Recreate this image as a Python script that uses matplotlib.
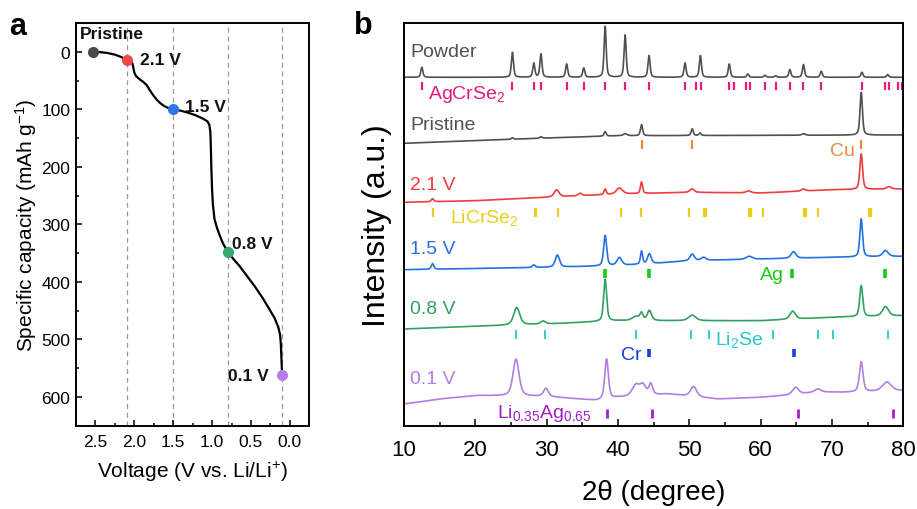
import numpy as np
import matplotlib
matplotlib.use('Agg')
import matplotlib.pyplot as plt
from matplotlib.ticker import MultipleLocator

plt.rcParams['font.family'] = ['Liberation Sans', 'DejaVu Sans']
plt.rcParams['mathtext.fontset'] = 'custom'
plt.rcParams['mathtext.rm'] = 'Liberation Sans'
plt.rcParams['mathtext.it'] = 'Liberation Sans:italic'
plt.rcParams['mathtext.bf'] = 'Liberation Sans:bold'

# ---------------- Panel a data ----------------
voltage = [2.53, 2.45, 2.35, 2.25, 2.17, 2.10, 2.05, 2.025, 2.012, 2.0, 1.98, 1.93, 1.88,
           1.84, 1.80, 1.76, 1.72, 1.67, 1.62, 1.56, 1.50, 1.42, 1.33, 1.22, 1.12,
           1.06, 1.035, 1.022, 1.015, 1.01, 1.0, 0.99, 0.97, 0.94, 0.90, 0.86, 0.80,
           0.74, 0.65, 0.55, 0.45, 0.35, 0.27, 0.20, 0.15, 0.125, 0.115, 0.108, 0.10]
capacity = [0, 0.5, 2, 5, 9, 14, 17, 20, 28, 36, 42, 48, 53,
            58, 67, 75, 82, 89, 94, 98, 100, 102, 105, 110, 116,
            121, 127, 140, 170, 200, 240, 265, 290, 305, 320, 333, 348,
            358, 372, 390, 408, 428, 446, 462, 478, 492, 510, 535, 560]
state_labels = ['Pristine', '2.1 V', '1.5 V', '0.8 V', '0.1 V']
state_voltage = [2.53, 2.10, 1.50, 0.80, 0.10]
state_capacity = [0, 14, 100, 348, 562]
state_colors = ['#4a4a4a', '#f04848', '#2a78e8', '#34a86a', '#b47fe6']
cutoff_voltage = [2.1, 1.5, 0.8, 0.1]

# ---------------- Panel b data ----------------
tt_grid = np.linspace(10, 80, 4000)

trace_names = ['Powder', 'Pristine', '2.1 V', '1.5 V', '0.8 V', '0.1 V']
trace_colors = ['#505050', '#505050', '#f03c3c', '#2472e2', '#31a062', '#b07fe0']

powder_bg_x = [10, 80]
powder_bg_y = [349, 349]
powder_pos = [12.5, 25.2, 28.2, 29.2, 32.8, 35.2, 38.2, 41.0, 44.35, 49.4, 51.55, 55.6,
              58.2, 60.6, 62.1, 64.1, 66.0, 68.5, 74.2, 77.8]
powder_h = [10, 25, 14, 23.3, 13.3, 9.3, 51, 42.3, 21.7, 14.3, 21.7, 13.3,
            3.3, 2, 1.5, 7.7, 12.7, 6, 5, 2.7]
powder_w = [0.35] * len(powder_pos)

pristine_bg_x = [10, 30, 40, 80]
pristine_bg_y = [283, 288.3, 290.6, 291.3]
pristine_pos = [25.2, 29.2, 38.2, 41.0, 43.3, 50.4, 51.5, 66.0, 74.1]
pristine_h = [1.5, 1.5, 4.5, 2, 11, 6.7, 2.5, 1.5, 42.7]
pristine_w = [0.35, 0.35, 0.35, 0.6, 0.35, 0.35, 0.35, 0.6, 0.4]

v21_bg_x = [10, 20, 30, 40, 50, 60, 70, 80]
v21_bg_y = [224, 225.6, 229, 232.3, 234, 233.3, 236.6, 237.3]
v21_pos = [14.0, 31.4, 34.7, 38.2, 40.2, 43.3, 50.4, 58.3, 66.0, 74.1, 78.0]
v21_h = [3, 7, 2.5, 5.5, 6, 11.5, 3.5, 2, 2, 35.5, 2.5]
v21_w = [0.4, 0.8, 0.6, 0.35, 1.0, 0.35, 0.7, 0.8, 0.7, 0.45, 0.8]

v15_bg_x = [10, 30, 40, 45, 50, 60, 70, 80]
v15_bg_y = [156.6, 159, 160.6, 162.8, 165.6, 167.3, 169, 170]
v15_pos = [14.0, 28.2, 31.5, 38.2, 40.2, 43.3, 44.4, 50.4, 52.0, 58.4, 64.6, 74.1, 77.5]
v15_h = [5.7, 2.5, 12, 30.5, 8, 13, 10, 6.5, 3, 3, 6.5, 38, 6]
v15_w = [0.4, 0.5, 0.7, 0.5, 0.8, 0.35, 0.6, 0.7, 0.8, 1.0, 0.8, 0.45, 0.9]

v08_bg_x = [10, 20, 30, 40, 50, 60, 70, 80]
v08_bg_y = [97.3, 100, 102.3, 105.6, 105.6, 105.6, 109, 110.6]
v08_pos = [25.8, 29.5, 38.2, 42.5, 43.3, 44.4, 50.4, 64.5, 74.1, 77.5]
v08_h = [17.5, 3, 42, 4, 7, 10, 5.5, 8, 31, 9.5]
v08_w = [1.0, 0.8, 0.5, 1.2, 0.5, 0.7, 1.2, 0.9, 0.5, 1.0]

v01_bg_x = [10, 15, 20, 25, 30, 37, 40, 47, 54, 60, 64, 68, 72, 80]
v01_bg_y = [22.3, 27.3, 30.8, 30.3, 29.8, 25.8, 28.8, 32.3, 27.3, 29, 31.3, 34.3, 34, 35.6]
v01_pos = [25.7, 29.9, 38.4, 42.5, 43.5, 44.6, 50.6, 64.9, 68.0, 74.1, 77.7]
v01_h = [37, 8, 40, 11, 10, 11, 10, 7, 3, 30, 9]
v01_w = [1.0, 0.8, 0.6, 1.2, 1.0, 0.6, 1.0, 1.0, 1.0, 0.6, 1.5]

# reference tick marks (2theta positions)
agcrse2_ref = [12.5, 25.2, 28.25, 29.2, 32.8, 35.2, 38.2, 41.0, 44.35, 49.4, 51.0, 51.6,
               55.6, 56.2, 57.9, 58.5, 60.6, 62.1, 64.1, 66.0, 68.5, 74.2, 77.5, 78.0,
               79.3, 79.8]
cu_ref = [43.3, 50.4, 74.1]
licrse2_ref = [14.1, 28.3, 28.45, 31.6, 40.4, 43.2, 49.9, 52.1, 52.35, 58.4, 58.7, 60.3,
               66.1, 66.4, 68.1, 75.2, 75.5]
ag_ref = [38.2, 44.4, 64.45, 77.4]
li2se_ref = [25.7, 29.8, 42.5, 50.3, 52.8, 61.8, 68.1, 70.1, 77.9]
cr_ref = [44.3, 64.7]
liag_ref = [38.5, 44.8, 65.3, 78.5]


def pattern(grid, bg_x, bg_y, pos, hts, wids):
    y = np.interp(grid, bg_x, bg_y)
    for p, h, w in zip(pos, hts, wids):
        d = (grid - p) / w
        y = y + h * (0.5 * np.exp(-4 * np.log(2) * d ** 2) + 0.5 / (1 + 4 * d ** 2))
    return y


fig = plt.figure(figsize=(9.17, 5.10), dpi=100)
W, H = 917, 510


def axes_px(x0, y0, x1, y1):
    return fig.add_axes([x0 / W, 1 - y1 / H, (x1 - x0) / W, (y1 - y0) / H])


# ================= Panel a =================
ax = axes_px(76, 24, 309.3, 426.7)
for v in cutoff_voltage:
    ax.axvline(v, color='#9a9a9a', ls=(0, (4, 3)), lw=0.9, zorder=1)
ax.plot(voltage, capacity, color='black', lw=1.6, zorder=2, solid_capstyle='round')
offsets = [(-9.6, 13.5, 'left'), (9.6, 0, 'left'), (8.4, 2.2, 'left'), (3.4, 6, 'left'),
           (-9.9, 0, 'right')]
for lab, v, c, col, (dx, dy, ha) in zip(state_labels, state_voltage, state_capacity,
                                         state_colors, offsets):
    ax.plot(v, c, 'o', ms=8, color=col, mec='none', zorder=3)
    ax.annotate(lab, (v, c), xytext=(dx, dy), textcoords='offset points', ha=ha,
                va='center', fontsize=12.5, fontweight='bold', color='#111111')
ax.set_xlim(2.75, -0.25)
ax.set_ylim(650, -50)
ax.xaxis.set_major_locator(MultipleLocator(0.5))
ax.xaxis.set_minor_locator(MultipleLocator(0.25))
ax.yaxis.set_major_locator(MultipleLocator(100))
ax.yaxis.set_minor_locator(MultipleLocator(50))
ax.set_yticks([0, 100, 200, 300, 400, 500, 600])
ax.tick_params(which='both', direction='in', top=False, right=False, labelsize=12.5,
               width=1.1)
ax.tick_params(which='major', length=4)
ax.tick_params(which='minor', length=2.5)
ax.tick_params(axis='x', pad=6)
ax.tick_params(axis='y', pad=4)
for s in ax.spines.values():
    s.set_linewidth(1.4)
fig.text(26 / W, 1 - 225 / H, r'Specific capacity (mAh g$^{\mathregular{-1}}$)', rotation=90,
         ha='center', va='center', fontsize=15)
fig.text(192 / W, 1 - 472 / H, r'Voltage (V vs. Li/Li$^{\mathregular{+}}$)', ha='center',
         va='center', fontsize=15)
fig.text(9 / W, 1 - 35 / H, 'a', fontsize=22, fontweight='bold', va='baseline')

# ================= Panel b =================
bx = axes_px(404, 24, 903.3, 427.3)
traces = [
    (powder_bg_x, powder_bg_y, powder_pos, powder_h, powder_w),
    (pristine_bg_x, pristine_bg_y, pristine_pos, pristine_h, pristine_w),
    (v21_bg_x, v21_bg_y, v21_pos, v21_h, v21_w),
    (v15_bg_x, v15_bg_y, v15_pos, v15_h, v15_w),
    (v08_bg_x, v08_bg_y, v08_pos, v08_h, v08_w),
    (v01_bg_x, v01_bg_y, v01_pos, v01_h, v01_w),
]
for (bgx, bgy, pos, h, w), col in zip(traces, trace_colors):
    bx.plot(tt_grid, pattern(tt_grid, bgx, bgy, pos, h, w), color=col, lw=1.2)

# trace names
name_y = [375, 302.3, 242.3, 177.3, 117.3, 47.3]
for name, yy, col in zip(trace_names, name_y, trace_colors):
    bx.text(10.85, yy, name, color=col, fontsize=14, ha='left', va='center')

# reference ticks
bx.vlines(agcrse2_ref, 336.6, 344.6, color='#e8197f', lw=1.6)
bx.vlines(cu_ref, 277.3, 286.6, color='#f08a3a', lw=1.6)
bx.vlines(licrse2_ref, 209.6, 218, color='#e6d21e', lw=1.6)
bx.vlines(ag_ref, 148, 157.3, color='#16cc16', lw=2.6)
bx.vlines(li2se_ref, 87.3, 96.6, color='#25c6cc', lw=1.3)
bx.vlines(cr_ref, 69, 77.3, color='#1440e0', lw=2.6)
bx.vlines(liag_ref, 8.3, 17.3, color='#a020c8', lw=2.0)

bx.text(13.3, 333, r'AgCrSe$_{\mathregular{2}}$', color='#e8197f', fontsize=14, ha='left', va='center')
bx.text(73.2, 275.6, 'Cu', color='#f08a3a', fontsize=14, ha='right', va='center')
bx.text(16.45, 209, r'LiCrSe$_{\mathregular{2}}$', color='#e6d21e', fontsize=14, ha='left', va='center')
bx.text(63.2, 152.3, 'Ag', color='#16cc16', fontsize=14, ha='right', va='center')
bx.text(53.6, 87.5, r'Li$_{\mathregular{2}}$Se', color='#25c6cc', fontsize=14, ha='left', va='center')
bx.text(43.35, 72.3, 'Cr', color='#1440e0', fontsize=14, ha='right', va='center')
bx.text(23.0, 13.5, r'Li$_{\mathregular{0.35}}$Ag$_{\mathregular{0.65}}$', color='#a020c8', fontsize=14,
        ha='left', va='center')

bx.set_xlim(10, 80)
bx.set_ylim(0, 403.3)
bx.set_yticks([])
bx.xaxis.set_major_locator(MultipleLocator(10))
bx.xaxis.set_minor_locator(MultipleLocator(5))
bx.tick_params(which='both', direction='in', top=False, right=False, labelsize=16,
               width=1.1, pad=9)
bx.tick_params(which='major', length=5)
bx.tick_params(which='minor', length=3)
for s in bx.spines.values():
    s.set_linewidth(1.4)
fig.text(377 / W, 1 - 226 / H, 'Intensity (a.u.)', rotation=90, ha='center', va='center',
         fontsize=23)
fig.text(654 / W, 1 - 493 / H, '2θ (degree)', ha='center', va='center', fontsize=20)
fig.text(354 / W, 1 - 34.5 / H, 'b', fontsize=22, fontweight='bold', va='baseline')

fig.savefig('out.png', dpi=100)
